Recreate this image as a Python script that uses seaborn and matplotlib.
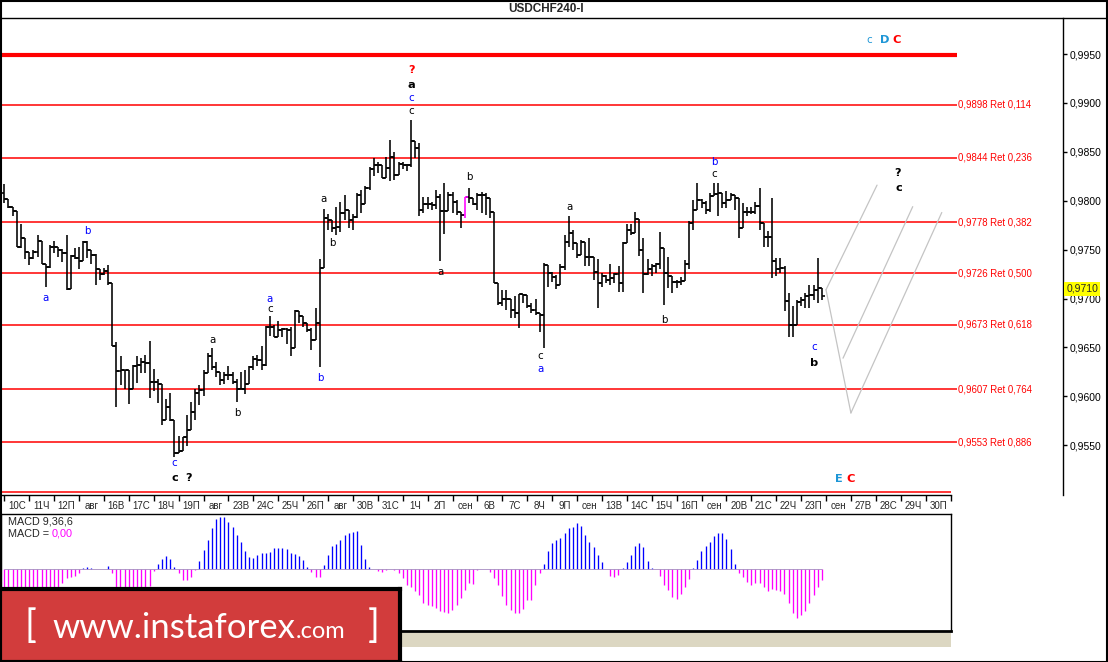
import numpy as np
import pandas as pd
import matplotlib
matplotlib.use('Agg')
import matplotlib.pyplot as plt
from matplotlib.patches import Rectangle
from matplotlib.lines import Line2D
import seaborn as sns

sns.set_style('white')
plt.rcParams['font.family'] = ['Liberation Sans', 'DejaVu Sans']

# ---- USDCHF H4 bars (one entry per 4h bar) ----
open_ = [0.9808, 0.9802, 0.9794, 0.9790, 0.9753, 0.9762, 0.9748, 0.9741, 0.9748, 0.9759,
         0.9735, 0.9732, 0.9753, 0.9753, 0.9750, 0.9747, 0.9710, 0.9744, 0.9741, 0.9738,
         0.9758, 0.9750, 0.9745, 0.9730, 0.9725, 0.9728, 0.9716, 0.9651, 0.9626, 0.9627,
         0.9627, 0.9607, 0.9631, 0.9632, 0.9635, 0.9634, 0.9615, 0.9615, 0.9613, 0.9576,
         0.9589, 0.9576, 0.9542, 0.9544, 0.9558, 0.9566, 0.9584, 0.9603, 0.9606, 0.9624,
         0.9641, 0.9630, 0.9625, 0.9617, 0.9622, 0.9622, 0.9615, 0.9608, 0.9608, 0.9613,
         0.9630, 0.9638, 0.9637, 0.9632, 0.9671, 0.9671, 0.9661, 0.9668, 0.9669, 0.9668,
         0.9649, 0.9687, 0.9682, 0.9675, 0.9668, 0.9658, 0.9675, 0.9731, 0.9782, 0.9780,
         0.9772, 0.9773, 0.9787, 0.9791, 0.9780, 0.9783, 0.9806, 0.9797, 0.9813, 0.9832,
         0.9837, 0.9837, 0.9823, 0.9833, 0.9845, 0.9826, 0.9838, 0.9837, 0.9837, 0.9861,
         0.9854, 0.9791, 0.9797, 0.9797, 0.9796, 0.9804, 0.9790, 0.9790, 0.9806, 0.9799,
         0.9789, 0.9785, 0.9804, 0.9803, 0.9797, 0.9806, 0.9806, 0.9803, 0.9789, 0.9716,
         0.9695, 0.9700, 0.9700, 0.9688, 0.9685, 0.9705, 0.9704, 0.9692, 0.9688, 0.9685,
         0.9683, 0.9734, 0.9726, 0.9722, 0.9714, 0.9732, 0.9758, 0.9767, 0.9757, 0.9745,
         0.9758, 0.9743, 0.9743, 0.9727, 0.9716, 0.9723, 0.9719, 0.9721, 0.9725, 0.9716,
         0.9757, 0.9770, 0.9767, 0.9781, 0.9750, 0.9725, 0.9730, 0.9733, 0.9735, 0.9752,
         0.9726, 0.9723, 0.9717, 0.9717, 0.9718, 0.9735, 0.9777, 0.9791, 0.9801, 0.9798,
         0.9791, 0.9805, 0.9807, 0.9808, 0.9798, 0.9801, 0.9806, 0.9803, 0.9772, 0.9789,
         0.9789, 0.9789, 0.9795, 0.9777, 0.9763, 0.9763, 0.9738, 0.9730, 0.9731, 0.9697,
         0.9673, 0.9673, 0.9696, 0.9699, 0.9703, 0.9704, 0.9709, 0.9711]
high = [0.9817, 0.9802, 0.9794, 0.9790, 0.9776, 0.9762, 0.9748, 0.9750, 0.9765, 0.9759,
        0.9735, 0.9755, 0.9759, 0.9753, 0.9751, 0.9765, 0.9745, 0.9752, 0.9753, 0.9759,
        0.9759, 0.9749, 0.9746, 0.9730, 0.9731, 0.9734, 0.9716, 0.9656, 0.9641, 0.9627,
        0.9623, 0.9632, 0.9641, 0.9639, 0.9642, 0.9657, 0.9628, 0.9618, 0.9606, 0.9597,
        0.9603, 0.9576, 0.9559, 0.9558, 0.9581, 0.9594, 0.9607, 0.9612, 0.9627, 0.9644,
        0.9649, 0.9635, 0.9625, 0.9625, 0.9631, 0.9625, 0.9618, 0.9625, 0.9627, 0.9631,
        0.9641, 0.9642, 0.9651, 0.9672, 0.9682, 0.9673, 0.9677, 0.9670, 0.9670, 0.9671,
        0.9688, 0.9687, 0.9682, 0.9675, 0.9670, 0.9690, 0.9740, 0.9792, 0.9786, 0.9780,
        0.9794, 0.9799, 0.9806, 0.9791, 0.9786, 0.9808, 0.9811, 0.9815, 0.9835, 0.9844,
        0.9840, 0.9837, 0.9845, 0.9862, 0.9850, 0.9840, 0.9840, 0.9838, 0.9883, 0.9861,
        0.9859, 0.9804, 0.9804, 0.9799, 0.9811, 0.9807, 0.9818, 0.9809, 0.9809, 0.9801,
        0.9789, 0.9804, 0.9813, 0.9803, 0.9808, 0.9809, 0.9808, 0.9801, 0.9789, 0.9716,
        0.9709, 0.9709, 0.9700, 0.9703, 0.9705, 0.9705, 0.9702, 0.9695, 0.9700, 0.9685,
        0.9736, 0.9734, 0.9727, 0.9724, 0.9735, 0.9765, 0.9784, 0.9770, 0.9757, 0.9760,
        0.9758, 0.9762, 0.9743, 0.9740, 0.9726, 0.9724, 0.9735, 0.9726, 0.9733, 0.9758,
        0.9776, 0.9776, 0.9789, 0.9781, 0.9762, 0.9740, 0.9735, 0.9736, 0.9768, 0.9752,
        0.9743, 0.9723, 0.9719, 0.9722, 0.9739, 0.9779, 0.9801, 0.9818, 0.9802, 0.9800,
        0.9808, 0.9818, 0.9818, 0.9808, 0.9810, 0.9808, 0.9806, 0.9803, 0.9798, 0.9794,
        0.9794, 0.9799, 0.9813, 0.9777, 0.9769, 0.9803, 0.9741, 0.9741, 0.9733, 0.9706,
        0.9692, 0.9699, 0.9702, 0.9706, 0.9714, 0.9714, 0.9741, 0.9711]
low = [0.9798, 0.9793, 0.9784, 0.9753, 0.9752, 0.9740, 0.9734, 0.9740, 0.9743, 0.9735,
       0.9712, 0.9731, 0.9747, 0.9743, 0.9737, 0.9709, 0.9710, 0.9740, 0.9730, 0.9738,
       0.9741, 0.9735, 0.9714, 0.9719, 0.9724, 0.9714, 0.9651, 0.9589, 0.9612, 0.9607,
       0.9592, 0.9607, 0.9614, 0.9624, 0.9624, 0.9598, 0.9605, 0.9593, 0.9571, 0.9576,
       0.9575, 0.9538, 0.9542, 0.9544, 0.9549, 0.9566, 0.9576, 0.9591, 0.9600, 0.9624,
       0.9627, 0.9620, 0.9612, 0.9613, 0.9617, 0.9613, 0.9594, 0.9607, 0.9602, 0.9613,
       0.9627, 0.9631, 0.9627, 0.9631, 0.9662, 0.9661, 0.9661, 0.9661, 0.9654, 0.9641,
       0.9649, 0.9675, 0.9671, 0.9666, 0.9647, 0.9658, 0.9630, 0.9731, 0.9770, 0.9768,
       0.9765, 0.9768, 0.9780, 0.9772, 0.9770, 0.9782, 0.9787, 0.9797, 0.9811, 0.9825,
       0.9828, 0.9823, 0.9823, 0.9820, 0.9821, 0.9826, 0.9832, 0.9830, 0.9835, 0.9844,
       0.9784, 0.9787, 0.9792, 0.9791, 0.9792, 0.9738, 0.9766, 0.9790, 0.9787, 0.9785,
       0.9772, 0.9782, 0.9798, 0.9796, 0.9791, 0.9787, 0.9785, 0.9782, 0.9716, 0.9693,
       0.9692, 0.9688, 0.9680, 0.9680, 0.9670, 0.9695, 0.9690, 0.9685, 0.9683, 0.9666,
       0.9649, 0.9712, 0.9717, 0.9710, 0.9714, 0.9729, 0.9753, 0.9750, 0.9741, 0.9745,
       0.9733, 0.9733, 0.9719, 0.9690, 0.9712, 0.9716, 0.9714, 0.9716, 0.9707, 0.9707,
       0.9757, 0.9765, 0.9767, 0.9744, 0.9706, 0.9724, 0.9723, 0.9726, 0.9730, 0.9693,
       0.9711, 0.9706, 0.9711, 0.9714, 0.9718, 0.9730, 0.9770, 0.9791, 0.9793, 0.9786,
       0.9788, 0.9805, 0.9784, 0.9793, 0.9793, 0.9801, 0.9791, 0.9762, 0.9772, 0.9784,
       0.9786, 0.9786, 0.9770, 0.9753, 0.9753, 0.9721, 0.9723, 0.9726, 0.9687, 0.9661,
       0.9661, 0.9673, 0.9692, 0.9690, 0.9690, 0.9699, 0.9695, 0.9699]
close = [0.9802, 0.9794, 0.9790, 0.9753, 0.9762, 0.9748, 0.9741, 0.9748, 0.9759, 0.9735,
         0.9732, 0.9753, 0.9753, 0.9750, 0.9747, 0.9710, 0.9744, 0.9741, 0.9738, 0.9758,
         0.9750, 0.9745, 0.9730, 0.9725, 0.9728, 0.9716, 0.9651, 0.9626, 0.9627, 0.9627,
         0.9607, 0.9631, 0.9632, 0.9635, 0.9634, 0.9615, 0.9615, 0.9613, 0.9576, 0.9589,
         0.9576, 0.9542, 0.9544, 0.9558, 0.9566, 0.9584, 0.9603, 0.9606, 0.9624, 0.9641,
         0.9630, 0.9625, 0.9617, 0.9622, 0.9622, 0.9615, 0.9608, 0.9608, 0.9613, 0.9630,
         0.9638, 0.9637, 0.9632, 0.9671, 0.9671, 0.9661, 0.9668, 0.9669, 0.9668, 0.9649,
         0.9687, 0.9682, 0.9675, 0.9668, 0.9658, 0.9675, 0.9731, 0.9782, 0.9780, 0.9772,
         0.9773, 0.9787, 0.9791, 0.9780, 0.9783, 0.9806, 0.9797, 0.9813, 0.9832, 0.9837,
         0.9837, 0.9823, 0.9833, 0.9845, 0.9826, 0.9838, 0.9837, 0.9837, 0.9861, 0.9854,
         0.9791, 0.9797, 0.9797, 0.9796, 0.9804, 0.9790, 0.9790, 0.9806, 0.9799, 0.9789,
         0.9785, 0.9804, 0.9803, 0.9797, 0.9806, 0.9806, 0.9803, 0.9789, 0.9716, 0.9695,
         0.9700, 0.9700, 0.9688, 0.9685, 0.9705, 0.9704, 0.9692, 0.9688, 0.9685, 0.9683,
         0.9734, 0.9726, 0.9722, 0.9714, 0.9732, 0.9758, 0.9767, 0.9757, 0.9745, 0.9758,
         0.9743, 0.9743, 0.9727, 0.9716, 0.9723, 0.9719, 0.9721, 0.9725, 0.9716, 0.9757,
         0.9770, 0.9767, 0.9781, 0.9750, 0.9725, 0.9730, 0.9733, 0.9735, 0.9752, 0.9726,
         0.9723, 0.9717, 0.9717, 0.9718, 0.9735, 0.9777, 0.9791, 0.9801, 0.9798, 0.9791,
         0.9805, 0.9807, 0.9808, 0.9798, 0.9801, 0.9806, 0.9803, 0.9772, 0.9789, 0.9789,
         0.9789, 0.9795, 0.9777, 0.9763, 0.9763, 0.9738, 0.9730, 0.9731, 0.9697, 0.9673,
         0.9673, 0.9696, 0.9699, 0.9703, 0.9704, 0.9709, 0.9711, 0.9703]
marked_bar = 111  # bar drawn in magenta

# ---- MACD(9,36,6) histogram ----
macd = [-0.00080, -0.00085, -0.00090, -0.00098, -0.00100, -0.00102, -0.00100, -0.00098, -0.00092, -0.00088,
        -0.00085, -0.00078, -0.00072, -0.00066, -0.00043, -0.00028, -0.00025, -0.00021, -0.00013, 0.00004,
        0.00005, 0.00002, 0.00001, 0.00000, 0.00000, 0.00009, -0.00013, -0.00070, -0.00110, -0.00140,
        -0.00160, -0.00160, -0.00150, -0.00120, -0.00090, -0.00050, -0.00005, 0.00015, 0.00030, 0.00039,
        0.00030, 0.00007, -0.00013, -0.00033, -0.00033, -0.00023, -0.00003, 0.00025, 0.00057, 0.00087,
        0.00122, 0.00150, 0.00155, 0.00155, 0.00142, 0.00127, 0.00102, 0.00082, 0.00054, 0.00037,
        0.00034, 0.00042, 0.00047, 0.00047, 0.00052, 0.00062, 0.00064, 0.00064, 0.00060, 0.00047,
        0.00044, 0.00040, 0.00027, 0.00007, -0.00008, -0.00023, -0.00023, 0.00012, 0.00042, 0.00070,
        0.00075, 0.00087, 0.00102, 0.00109, 0.00112, 0.00115, 0.00072, 0.00030, 0.00005, 0.00000,
        -0.00006, -0.00008, -0.00003, 0.00000, -0.00003, -0.00013, -0.00028, -0.00048, -0.00053, -0.00066,
        -0.00078, -0.00101, -0.00108, -0.00111, -0.00118, -0.00125, -0.00128, -0.00133, -0.00123, -0.00108,
        -0.00088, -0.00063, -0.00043, -0.00045, -0.00003, -0.00001, 0.00000, -0.00008, -0.00028, -0.00048,
        -0.00081, -0.00108, -0.00123, -0.00131, -0.00131, -0.00121, -0.00093, -0.00093, -0.00048, -0.00013,
        0.00015, 0.00054, 0.00077, 0.00087, 0.00092, 0.00107, 0.00124, 0.00127, 0.00139, 0.00129,
        0.00102, 0.00082, 0.00067, 0.00042, 0.00022, 0.00000, -0.00021, -0.00023, -0.00018, 0.00002,
        0.00022, 0.00042, 0.00069, 0.00079, 0.00067, 0.00025, 0.00002, 0.00000, -0.00021, -0.00048,
        -0.00063, -0.00083, -0.00090, -0.00075, -0.00053, -0.00031, 0.00002, 0.00027, 0.00054, 0.00069,
        0.00082, 0.00100, 0.00107, 0.00109, 0.00090, 0.00060, 0.00015, -0.00011, -0.00025, -0.00038,
        -0.00048, -0.00041, -0.00041, -0.00053, -0.00065, -0.00060, -0.00063, -0.00065, -0.00075, -0.00101,
        -0.00133, -0.00146, -0.00138, -0.00125, -0.00103, -0.00078, -0.00053, -0.00033]

day_labels = ['10С', '11Ч', '12П', 'авг', '16В', '17С', '18Ч', '19П', 'авг', '23В',
              '24С', '25Ч', '26П', 'авг', '30В', '31С', '1Ч', '2П', 'сен', '6В',
              '7С', '8Ч', '9П', 'сен', '13В', '14С', '15Ч', '16П', 'сен', '20В',
              '21С', '22Ч', '23П', 'сен', '27В', '28С', '29Ч', '30П']
bars_per_day = 6

fib_levels = [0.9898, 0.9844, 0.9778, 0.9726, 0.9673, 0.9607, 0.9553]
fib_ratios = ['0,114', '0,236', '0,382', '0,500', '0,618', '0,764', '0,886']
fib_zero = 0.9949
fib_one = 0.9502
last_price = 0.9710

# projection lines drawn on the chart (bar index, price)
proj_seg = [0, 0, 1, 1, 2, 2, 3, 3]
proj_bar = [198.0, 210.3, 198.0, 204.0, 204.0, 225.9, 202.1, 218.9]
proj_price = [0.9709, 0.9816, 0.9709, 0.9583, 0.9583, 0.9788, 0.9639, 0.9794]

# wave marks
wave_text = ['?', 'a', 'c', 'c', 'c', 'D', 'C', 'a', 'b', 'a', 'b', 'c', 'c', '?',
             'a', 'c', 'b', 'a', 'b', 'a', 'b', 'c', 'a', 'a', 'b', 'b', 'c',
             'c', 'b', '?', 'c', 'E', 'C']
wave_bar = [98.0, 98.0, 98.0, 98.0, 208.4, 212.2, 215.1, 10.0, 19.9, 50.1, 56.1, 40.9, 41.1, 44.3,
            64.0, 64.0, 76.1, 77.0, 79.0, 105.0, 112.0, 129.1, 129.1, 136.3, 159.0, 171.0, 171.0,
            195.1, 195.1, 215.3, 215.6, 201.1, 204.0]
wave_price = [0.9934, 0.9918, 0.9905, 0.9892, 0.9964, 0.9964, 0.9964, 0.9701, 0.9769, 0.9658, 0.9583,
              0.9532, 0.9516, 0.9516, 0.9700, 0.9689, 0.9619, 0.9802, 0.9757, 0.9727, 0.9824,
              0.9641, 0.9628, 0.9794, 0.9678, 0.9840, 0.9827, 0.9650, 0.9634, 0.9828, 0.9813,
              0.9515, 0.9515]
wave_color = ['r', 'k', 'b', 'k', 't', 't', 'r', 'b', 'b', 'k', 'k', 'b', 'k', 'k',
              'b', 'k', 'b', 'k', 'k', 'k', 'k', 'k', 'b', 'k', 'k', 'b', 'k',
              'b', 'k', 'k', 'k', 't', 'r']
wave_bold = [1, 1, 0, 0, 0, 1, 1, 0, 0, 0, 0, 0, 1, 1,
             0, 0, 0, 0, 0, 0, 0, 0, 0, 0, 0, 0, 0,
             0, 1, 1, 1, 1, 1]
palette = {'r': '#ff0000', 'k': '#000000', 'b': '#0000ff', 't': '#1e96d6'}

# ---- layout (pixels of the 1108x662 picture) ----
W, H = 1108, 662


def box(x0, y0, x1, y1):
    return [x0 / W, 1 - y1 / H, (x1 - x0) / W, (y1 - y0) / H]


def px_to_bar(px):
    return (px - 4.3) / 4.15


fig = plt.figure(figsize=(W / 100, H / 100), dpi=100)
fig.patch.set_facecolor('white')

# ---------------- price panel ----------------
ax = fig.add_axes(box(1, 18, 1063, 495))
ax.set_facecolor('white')
ax.set_xlim(px_to_bar(1), px_to_bar(1063))
ax.set_ylim(0.94991, 0.99869)

k = np.arange(len(close))
o, h, l, c = map(np.array, (open_, high, low, close))
lo = np.minimum(l, np.minimum(o, c))
hi = np.maximum(h, np.maximum(o, c))
cols = ['#ff00ff' if i == marked_bar else 'black' for i in k]

# fib levels
x_end = px_to_bar(957)
ax.hlines(fib_levels, px_to_bar(1), x_end, color='#ff0000', lw=1.1, zorder=1)
ax.hlines(fib_one, px_to_bar(1), px_to_bar(951), color='#ff0000', lw=1.1, zorder=1)
ax.hlines(fib_zero, px_to_bar(1), x_end, color='#ff0000', lw=3.0, zorder=1)
for lvl, r in zip(fib_levels, fib_ratios):
    ax.text(px_to_bar(958), lvl, f'{lvl:.4f}'.replace('.', ',') + ' Ret ' + r,
            color='#ff0000', fontsize=6.9, va='center', ha='left')

# OHLC bars
ax.vlines(k, lo, hi, colors=cols, lw=1.15, zorder=3)
ax.hlines(o, k - 0.75, k, colors=cols, lw=1.15, zorder=3)
ax.hlines(c, k, k + 0.75, colors=cols, lw=1.15, zorder=3)

# projection lines
proj = pd.DataFrame({'seg': proj_seg, 'bar': proj_bar, 'price': proj_price})
sns.lineplot(data=proj, x='bar', y='price', units='seg', estimator=None,
             color='#c4c4c4', lw=0.9, ax=ax, legend=False, zorder=2)
ax.set_xlabel('')
ax.set_ylabel('')

# wave labels
for t, xb, yp, cc, b in zip(wave_text, wave_bar, wave_price, wave_color, wave_bold):
    ax.text(xb, yp, t, color=palette[cc], fontsize=8.2 if b else 7.4,
            fontweight='bold' if b else 'normal', ha='center', va='center',
            family=['DejaVu Sans'], zorder=5)

# axes styling
for s in ('top', 'left'):
    ax.spines[s].set_visible(False)
ax.spines['right'].set_color('black')
ax.spines['right'].set_linewidth(1.0)
ax.spines['bottom'].set_color('black')
ax.spines['bottom'].set_linewidth(1.0)
ax.spines['bottom'].set_bounds(px_to_bar(1), px_to_bar(951))

ax.yaxis.tick_right()
yt = np.arange(0.9550, 0.99501, 0.0050)
ax.set_yticks(yt)
ax.set_yticklabels([f'{v:.4f}'.replace('.', ',') for v in yt])
ax.tick_params(axis='y', direction='out', length=3, width=1, pad=2,
               labelsize=7.5, colors='black', right=True, left=False)

bounds = np.arange(len(day_labels) + 1) * bars_per_day
ax.set_xticks(bounds)
ax.set_xticklabels([])
ax.set_xticks(bounds[:-1] + bars_per_day / 2, minor=True)
ax.set_xticklabels(day_labels, minor=True)
ax.tick_params(axis='x', which='major', direction='out', length=4, width=1,
               bottom=True, colors='black')
ax.tick_params(axis='x', which='minor', length=0, pad=4, labelsize=7, bottom=True)

ax.annotate(f'{last_price:.4f}'.replace('.', ','), xy=(1.0, last_price),
            xycoords=('axes fraction', 'data'), xytext=(2.5, 0),
            textcoords='offset points', ha='left', va='center', fontsize=7.5,
            bbox=dict(boxstyle='square,pad=0.2', fc='#ffff00', ec='none'),
            annotation_clip=False)

# ---------------- MACD panel ----------------
mx = fig.add_axes(box(1, 514, 951, 631))
mx.set_facecolor('white')
mx.set_xlim(px_to_bar(1), px_to_bar(951))
mx.set_ylim(-0.00186, 0.00165)
m = np.array(macd)
mx.vlines(k, 0, m, colors=np.where(m >= 0, '#0000ff', '#ff00ff'), lw=0.95)
mx.hlines(0, k[0], k[-1], color='#a58ac0', lw=0.6)
mx.set_xticks([])
mx.set_yticks([])
for s in mx.spines.values():
    s.set_color('black')
    s.set_linewidth(1.0)
mx.spines['bottom'].set_linewidth(2.0)

fig.text(8 / W, 1 - 522 / H, 'MACD 9,36,6', fontsize=7.8, va='center', ha='left')
fig.text(8 / W, 1 - 534 / H, 'MACD =', fontsize=7.8, va='center', ha='left')
fig.text(52 / W, 1 - 534 / H, '0,00', fontsize=7.8, va='center', ha='left', color='#ff00ff')

# hatched strip under the indicator
fig.patches.append(Rectangle((1 / W, 1 - 647 / H), 950 / W, 14 / H,
                             transform=fig.transFigure, facecolor='#dcd7c2',
                             edgecolor='none', hatch='....', lw=0))

# title bar and frame
fig.text(546 / W, 1 - 9.5 / H, 'USDCHF240-I', fontsize=8.5, fontweight='bold',
         ha='center', va='center')
fig.lines.append(Line2D([0, 1], [1 - 18 / H] * 2, transform=fig.transFigure,
                        color='black', lw=1.0))
fig.patches.append(Rectangle((0.5 / W, 0.5 / H), 1 - 1.5 / W, 1 - 1.5 / H,
                             transform=fig.transFigure, fill=False,
                             edgecolor='black', lw=1.5))

# ---------------- logo ----------------
lg = fig.add_axes(box(0, 589, 400, 662), zorder=10)
lg.set_xlim(0, 400)
lg.set_ylim(73, 0)
lg.set_facecolor('#d23c3c')
lg.set_xticks([])
lg.set_yticks([])
for s in lg.spines.values():
    s.set_color('black')
    s.set_linewidth(3)
logo_font = ['Lato', 'DejaVu Sans']
lg.text(24, 37, '[', color='white', fontsize=28,
        ha='left', va='center', family=logo_font)
lg.text(368, 37, ']', color='white', fontsize=28,
        ha='left', va='center', family=logo_font)
t1 = lg.text(52, 49, 'www.instaforex', color='white', fontsize=25,
             ha='left', va='baseline', family=logo_font)
fig.canvas.draw()
bb = t1.get_window_extent().transformed(lg.transData.inverted())
lg.text(bb.x1 + 1, 49, '.com', color='white', fontsize=17,
        ha='left', va='baseline', family=logo_font)

fig.savefig('out.png', dpi=100, facecolor='white')
